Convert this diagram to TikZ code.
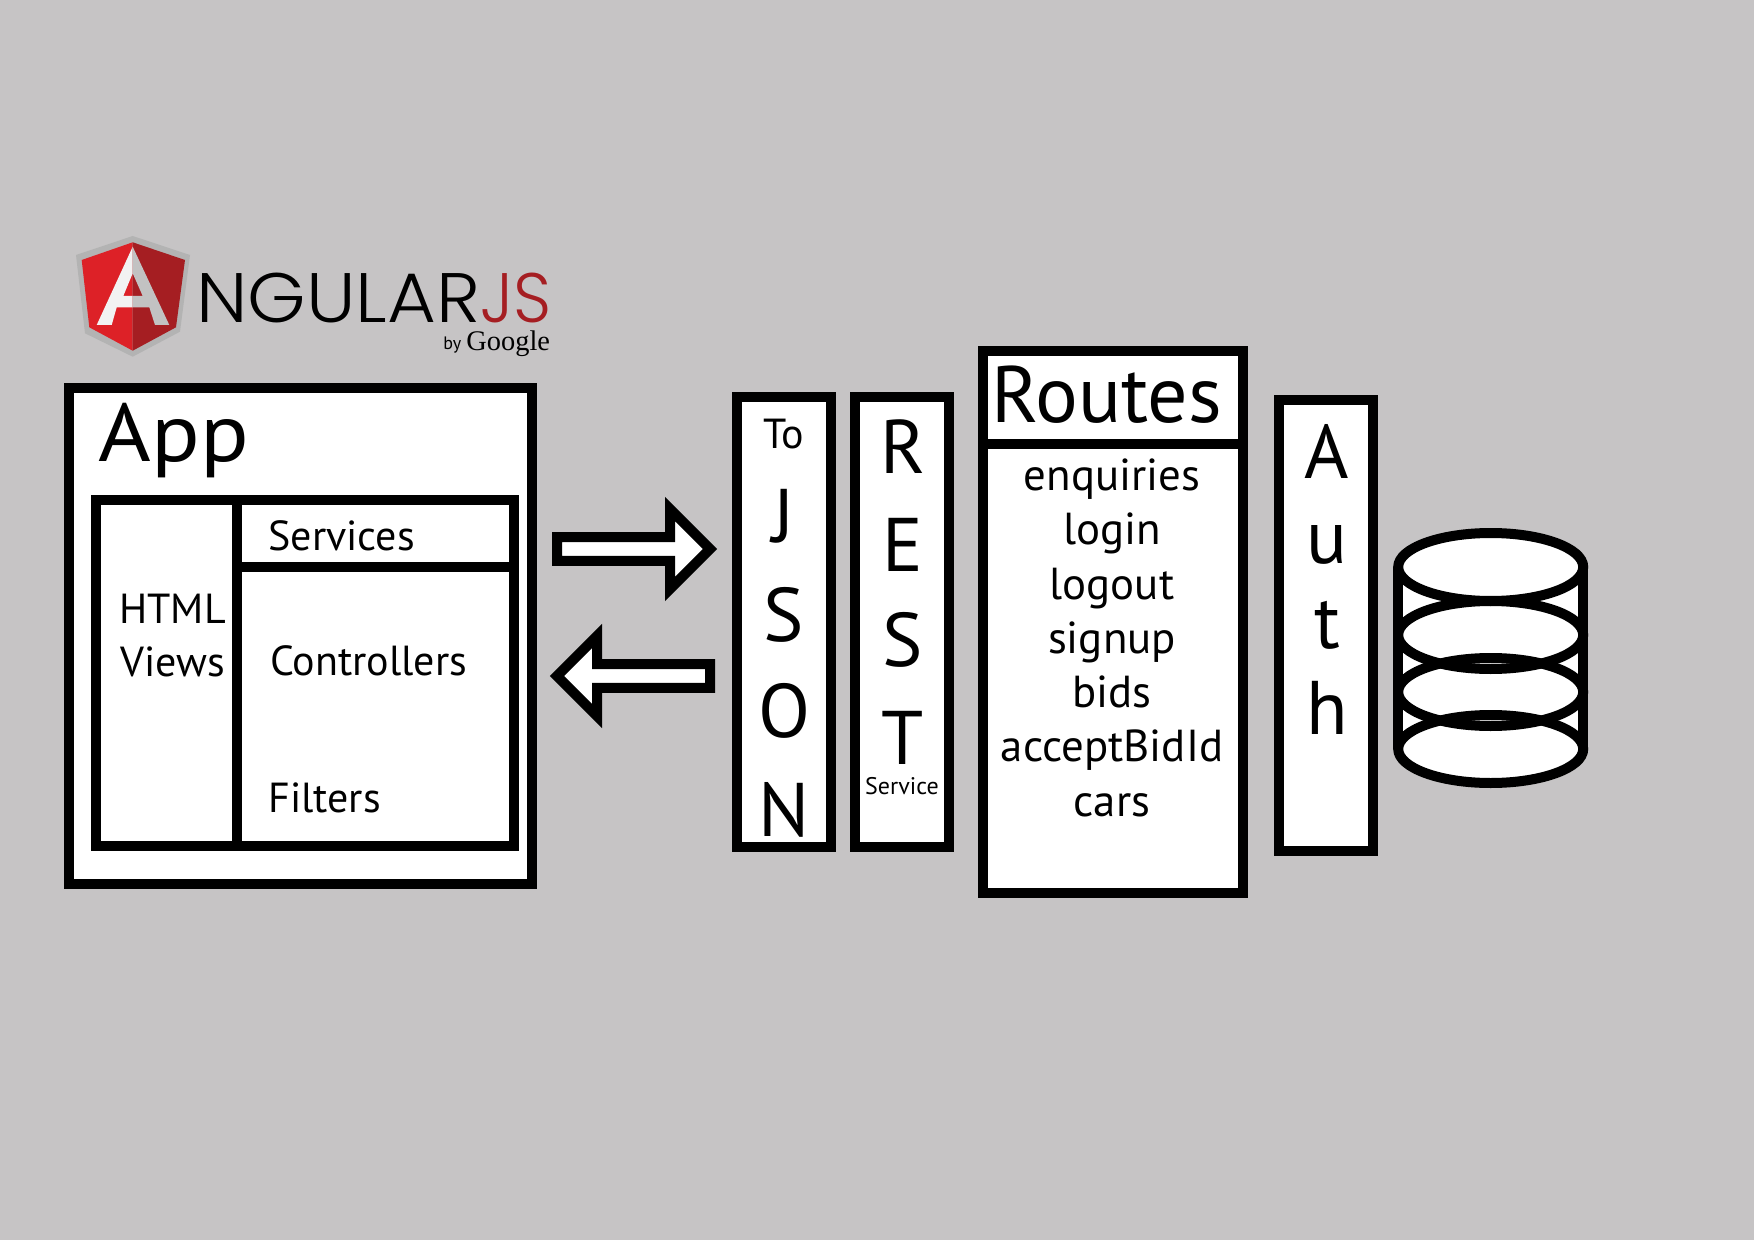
\documentclass[tikz,border=0pt]{standalone}
\usepackage{fontspec}
\setmainfont{PT Sans}
\newfontfamily\logofont[UprightFont={* Light}]{Poppins}
\newfontfamily\googlefont{Liberation Serif}
\usetikzlibrary{shapes.geometric,shapes.arrows}
\definecolor{bggrey}{HTML}{C6C4C5}
\definecolor{ngred}{HTML}{DD2127}
\definecolor{ngdark}{HTML}{A51E22}
\definecolor{nggrey}{HTML}{B3B3B3}
\tikzset{
    box/.style={draw=black, fill=white, line width=5pt, rectangle, outer sep=0pt, inner sep=0pt},
    blockarrow/.style={draw=black, fill=white, line width=5pt, miter limit=10, single arrow, outer sep=0pt, inner sep=0pt,
        minimum height=76.5pt, minimum width=40pt, single arrow head extend=6pt, anchor=tip},
    disc/.style={draw=black, line width=5pt, ellipse, outer sep=0pt, inner sep=0pt, minimum width=92.5pt, minimum height=34pt},
    big/.style={inner sep=0pt, font=\fontsize{38}{38}\selectfont},
    mid/.style={inner sep=0pt, font=\fontsize{21}{21}\selectfont, anchor=base west},
    item/.style={inner sep=0pt, font=\fontsize{22.4}{22.4}\selectfont, anchor=base}
}
\begin{document}
\begin{tikzpicture}[x=0.5pt, y=-0.5pt]
    \fill[bggrey] (0,0) rectangle (1754,1240);
    \useasboundingbox (0,0) rectangle (1754,1240);
    % logo
    \fill[nggrey] (132.7,236) -- (190,255) -- (180,331.7) -- (132.7,356.7) -- (85,333.3) -- (76,255) -- cycle;
    \fill[ngred] (132.7,242.3) -- (81.7,260) -- (89.3,327.3) -- (132.7,350.7) -- cycle;
    \fill[ngdark] (132.7,242.3) -- (185,260) -- (176,327.3) -- (132.7,350.7) -- cycle;
    \fill[white!95!black] (132.7,246.7) -- (96.7,325) -- (111.7,325) -- (116.7,307.3) -- (132.7,307.3) -- (132.7,296) -- (123.3,296) -- (132.7,273.3) -- cycle;
    \fill[nggrey!80!white] (132.7,246.7) -- (169.3,325) -- (155,325) -- (149.3,307.3) -- (132.7,307.3) -- (132.7,296) -- (142.7,296) -- (132.7,273.3) -- cycle;
    \node[inner sep=0pt, anchor=base west, xscale=1.07, font=\logofont\fontsize{35}{35}\selectfont] (ngular) at (196,322.7) {NGULAR};
    \node[inner sep=0pt, anchor=base west, xscale=0.95, text=ngdark, font=\logofont\fontsize{35}{35}\selectfont] (js) at (480,322.7) {JS};
    \node[inner sep=0pt, anchor=base west, font=\fontsize{9}{9}\selectfont] (by) at (443,350) {by};
    \node[inner sep=0pt, anchor=base west, font=\googlefont\fontsize{14.2}{14.2}\selectfont] (google) at (466,351) {Google};
    % app
    \node[box, minimum width=231.5pt, minimum height=248pt] (app) at (300.5,636) {};
    \node[big, anchor=base west, xscale=1.1, font=\fontsize{41}{41}\selectfont] (applabel) at (98,462) {App};
    \node[box, minimum width=70.5pt, minimum height=173pt] (views) at (166.5,673) {};
    \node[box, minimum width=138.5pt, minimum height=33.5pt] (services) at (375.5,533.5) {};
    \node[box, minimum width=138.5pt, minimum height=139.5pt] (controllers) at (375.5,706.5) {};
    \node[mid] (html) at (119,623) {HTML};
    \node[mid] (viewslabel) at (120,676) {Views};
    \node[mid] (serviceslabel) at (268,550) {Services};
    \node[mid] (controllerslabel) at (270,675) {Controllers};
    \node[mid] (filters) at (268,812) {Filters};
    % arrows
    \node[blockarrow] (send) at (710,549) {};
    \node[blockarrow, shape border rotate=180] (receive) at (557,676) {};
    % to json
    \node[box, minimum width=47pt, minimum height=224.5pt] (json) at (784,622) {};
    \node[inner sep=0pt, font=\fontsize{21}{21}\selectfont] (to) at (784,434) {To};
    \node[big] (j) at (784,516) {J};
    \node[big] (s) at (784,615) {S};
    \node[big] (o) at (784,711) {O};
    \node[big] (n) at (784,810) {N};
    % rest
    \node[box, minimum width=47pt, minimum height=224.5pt] (rest) at (902,622) {};
    \node[big] (r) at (903,447) {R};
    \node[big] (e) at (903,545) {E};
    \node[big] (ss) at (903,640) {S};
    \node[big] (t) at (903,738) {T};
    \node[inner sep=0pt, font=\fontsize{12}{12}\selectfont] (service) at (902,786) {Service};
    % routes
    \node[box, minimum width=130pt, minimum height=46.5pt] (routeshead) at (1113,397.5) {};
    \node[box, minimum width=130pt, minimum height=224.5pt] (routes) at (1113,668.5) {};
    \node[big, font=\fontsize{40}{40}\selectfont] (routeslabel) at (1107,395) {Routes};
    \node[item] (enquiries) at (1112,490) {enquiries};
    \node[item] (login) at (1112,544) {login};
    \node[item] (logout) at (1112,599) {logout};
    \node[item] (signup) at (1112,653) {signup};
    \node[item] (bids) at (1112,707) {bids};
    \node[item] (accept) at (1112,761) {acceptBidId};
    \node[item] (cars) at (1112,816) {cars};
    % auth
    \node[box, minimum width=47pt, minimum height=225pt] (auth) at (1326,625.5) {};
    \node[big] (a) at (1327,451) {A};
    \node[big] (u) at (1327,545) {u};
    \node[big] (tt) at (1327,625) {t};
    \node[big] (h) at (1327,708) {h};
    % database
    \fill[white] (1490.7,567) ellipse [x radius=92.5, y radius=34];
    \fill[white] (1490.7,748) ellipse [x radius=92.5, y radius=34];
    \fill[white] (1398.2,567) rectangle (1583.2,748);
    \node[disc] (db1) at (1490.7,567) {};
    \node[disc] (db2) at (1490.7,635) {};
    \node[disc] (db3) at (1490.7,692) {};
    \node[disc] (db4) at (1490.7,749) {};
    \draw[line width=5pt] (db1.west) -- (db4.west);
    \draw[line width=5pt] (db1.east) -- (db4.east);
\end{tikzpicture}
\end{document}
